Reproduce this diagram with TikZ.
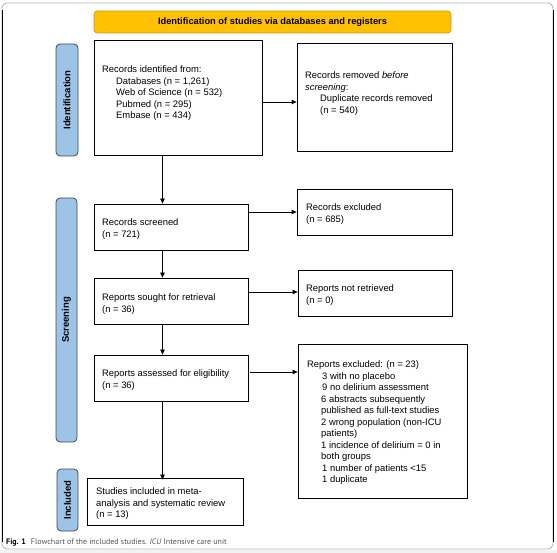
\documentclass[tikz,border=0pt]{standalone}
\usepackage{fontspec}
\setmainfont{Liberation Sans}
\newfontfamily\capfont{PT Sans}
\usetikzlibrary{arrows.meta}
\definecolor{hdr}{HTML}{FFC000}
\definecolor{hdrb}{HTML}{C59A2E}
\definecolor{lab}{HTML}{9DC3E6}
\definecolor{labb}{HTML}{3F4A56}
\definecolor{capgray}{HTML}{555555}
\begin{document}
\begin{tikzpicture}[x=1pt,y=-1pt,
  box/.style={draw=black, line width=0.8pt, inner sep=0pt, fill=white},
  txt/.style={anchor=north west, inner sep=0pt, align=left, font=\fontsize{9.4}{11.5}\selectfont},
  lbl/.style={draw=labb, fill=lab, rounded corners=4pt, line width=0.8pt, inner sep=0pt, rotate=90, font=\fontsize{9.5}{11}\selectfont\bfseries},
  arr/.style={-{Triangle[length=5pt,width=4.5pt]}, line width=0.8pt}]
\useasboundingbox (0,0) rectangle (557,553);
% outer frame
\fill[green!8!gray!10] (0,550) rectangle (557,553);
\draw[gray!60, line width=0.8pt, rounded corners=5pt] (2,3) rectangle (553,549);
\draw[black, line width=0.8pt] (2,10) -- (2,542) (553,10) -- (553,542);
% header
\node[draw=hdrb, fill=hdr, rounded corners=3pt, line width=0.6pt, minimum width=357pt, minimum height=22pt, inner sep=0pt, font=\fontsize{9.3}{11}\selectfont\bfseries] (hdr) at (272.5,22) {Identification of studies via databases and registers};
% side labels
\node[lbl, minimum width=112pt, minimum height=22pt] (l1) at (67,100) {Identification};
\node[lbl, minimum width=244pt, minimum height=21pt] (l2) at (66.5,320) {Screening};
\node[lbl, minimum width=62pt, minimum height=21pt] (l3) at (67.5,500) {Included};
% boxes
\node[box, minimum width=168pt, minimum height=115pt] (b1) at (178,97.5) {};
\node[box, minimum width=155pt, minimum height=108pt] (rem) at (374.5,97) {};
\node[box, minimum width=154pt, minimum height=46pt] (scr) at (171,227) {};
\node[box, minimum width=155pt, minimum height=46pt] (exc) at (374.5,212) {};
\node[box, minimum width=154pt, minimum height=46pt] (sou) at (171,301) {};
\node[box, minimum width=154pt, minimum height=46pt] (nr) at (375,293) {};
\node[box, minimum width=154pt, minimum height=46pt] (ass) at (171,378) {};
\node[box, minimum width=169pt, minimum height=154pt] (rex) at (382.5,421) {};
\node[box, minimum width=156pt, minimum height=47pt] (inc) at (165,501.5) {};
% texts
\node[txt] (b1t) at (102,65.5) {Records identified from:\\
\hspace*{14pt}Databases (n = 1,261)\\
\hspace*{14pt}Web of Science (n = 532)\\
\hspace*{14pt}Pubmed (n = 295)\\
\hspace*{14pt}Embase (n = 434)};
\node[txt] (remt) at (305,71.5) {Records removed \textit{before}\\
\textit{screening}:\\
\hspace*{15pt}Duplicate records removed\\
\hspace*{15pt}(n = 540)};
\node[txt] (scrt) at (102,218.5) {Records screened\\(n = 721)};
\node[txt] (exct) at (306,203.5) {Records excluded\\(n = 685)};
\node[txt] (sout) at (102,293.5) {Reports sought for retrieval\\(n = 36)};
\node[txt] (nrt) at (306,284.5) {Reports not retrieved\\(n = 0)};
\node[txt] (asst) at (102,369.5) {Reports assessed for eligibility\\(n = 36)};
\node[txt] (rext) at (307,360.5) {Reports excluded: (n = 23)\\
\hspace*{15pt}3 with no placebo\\
\hspace*{15pt}9 no delirium assessment\\
\hspace*{14pt}6 abstracts subsequently\\
\hspace*{14pt}published as full-text studies\\
\hspace*{14pt}2 wrong population (non-ICU\\
\hspace*{14pt}patients)\\
\hspace*{14pt}1 incidence of delirium = 0 in\\
\hspace*{14pt}both groups\\
\hspace*{15pt}1 number of patients <15\\
\hspace*{15pt}1 duplicate};
\node[txt] (inct) at (96,487.5) {Studies included in meta-\\analysis and systematic review\\(n = 13)};
% arrows
\coordinate (ax) at (162.5,0);
\coordinate (y1) at (0,102);
\coordinate (y2) at (0,212);
\coordinate (y3) at (0,292);
\coordinate (y4) at (0,372);
\draw[arr] (b1.east |- y1) -- (rem.west |- y1);
\draw[arr] (scr.east |- y2) -- (exc.west |- y2);
\draw[arr] (sou.east |- y3) -- (nr.west |- y3);
\draw[arr] ([xshift=2pt]ass.east |- y4) -- (rex.west |- y4);
\draw[arr] (b1.south -| ax) -- (scr.north -| ax);
\draw[arr] (scr.south -| ax) -- (sou.north -| ax);
\draw[arr] (sou.south -| ax) -- (ass.north -| ax);
\draw[arr] ([yshift=-1pt]ass.south -| ax) -- ([yshift=-2pt]inc.north -| ax);
% caption
\node[anchor=west, inner sep=0pt, font=\capfont\fontsize{8}{9}\selectfont] (cap) at (6,542) {\textbf{Fig. 1}\hspace{5pt}\textcolor{capgray}{Flowchart of the included studies. \textit{ICU} Intensive care unit}};
\end{tikzpicture}
\end{document}
